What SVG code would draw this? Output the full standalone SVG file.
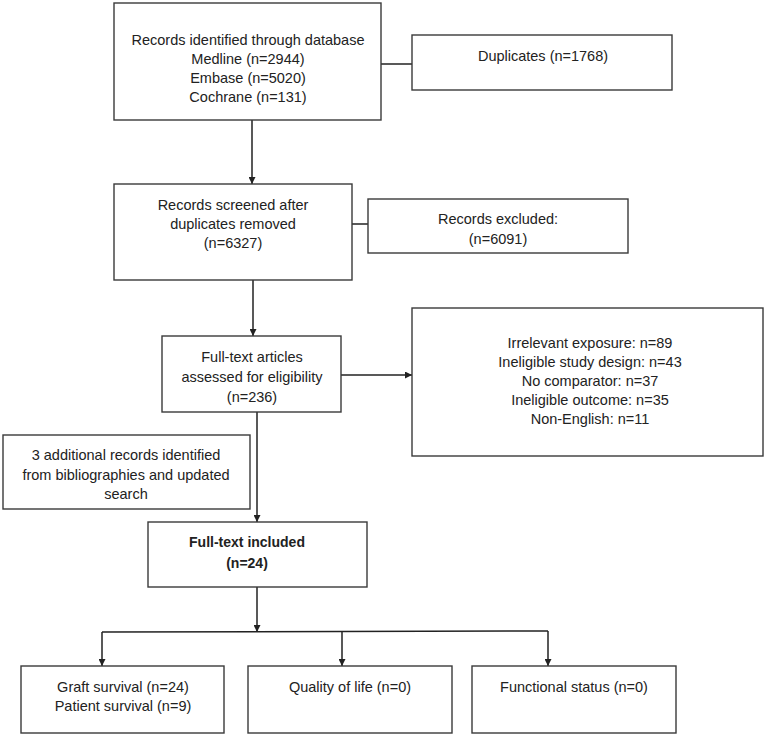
<svg xmlns="http://www.w3.org/2000/svg" width="766" height="736" viewBox="0 0 766 736">
<defs>
<style>
.box{fill:#fff;stroke:#3a3a3a;stroke-width:1.4}
.t{font-family:"Liberation Sans",Arial,sans-serif;font-size:14.5px;fill:#222;text-anchor:middle}
.b{font-weight:bold;font-size:14px}
.c{fill:none;stroke:#222;stroke-width:1.5}
</style>
<marker id="ah" viewBox="0 0 10 10" refX="10" refY="5" markerWidth="7" markerHeight="7" markerUnits="userSpaceOnUse" orient="auto">
<path d="M0,0 L10,5 L0,10 Z" fill="#222"/>
</marker>
</defs>
<rect width="766" height="736" fill="#fff"/>
<g id="connectors">
<line class="c" x1="381" y1="64" x2="412" y2="64"/>
<line class="c" x1="252" y1="120" x2="252" y2="184" marker-end="url(#ah)"/>
<line class="c" x1="352" y1="224" x2="368" y2="224"/>
<line class="c" x1="253" y1="280" x2="253" y2="336" marker-end="url(#ah)"/>
<line class="c" x1="341" y1="375" x2="412" y2="375" marker-end="url(#ah)"/>
<line class="c" x1="257" y1="412" x2="257" y2="522" marker-end="url(#ah)"/>
<line class="c" x1="257" y1="587" x2="257" y2="632" marker-end="url(#ah)"/>
<line class="c" x1="102" y1="632" x2="548" y2="631"/>
<line class="c" x1="102" y1="632" x2="102" y2="666" marker-end="url(#ah)"/>
<line class="c" x1="342" y1="632" x2="342" y2="666" marker-end="url(#ah)"/>
<line class="c" x1="548" y1="631" x2="548" y2="666" marker-end="url(#ah)"/>
</g>
<g id="n1">
<rect class="box" x="114" y="3" width="267" height="117"/>
<text class="t" x="248" y="45">Records identified through database</text>
<text class="t" x="248" y="64">Medline (n=2944)</text>
<text class="t" x="248" y="83">Embase (n=5020)</text>
<text class="t" x="248" y="102">Cochrane (n=131)</text>
</g>
<g id="n2">
<rect class="box" x="412" y="35" width="260" height="55"/>
<text class="t" x="543" y="61">Duplicates (n=1768)</text>
</g>
<g id="n3">
<rect class="box" x="114" y="184" width="238" height="96"/>
<text class="t" x="233" y="210">Records screened after</text>
<text class="t" x="233" y="229">duplicates removed</text>
<text class="t" x="233" y="248">(n=6327)</text>
</g>
<g id="n4">
<rect class="box" x="368" y="199" width="260" height="54"/>
<text class="t" x="498" y="224">Records excluded:</text>
<text class="t" x="498" y="244">(n=6091)</text>
</g>
<g id="n5">
<rect class="box" x="162" y="336" width="179" height="76"/>
<text class="t" x="252" y="362">Full-text articles</text>
<text class="t" x="252" y="382">assessed for eligibility</text>
<text class="t" x="252" y="402">(n=236)</text>
</g>
<g id="n6">
<rect class="box" x="412" y="308" width="351" height="148"/>
<text class="t" x="590" y="348">Irrelevant exposure: n=89</text>
<text class="t" x="590" y="367">Ineligible study design: n=43</text>
<text class="t" x="590" y="386">No comparator: n=37</text>
<text class="t" x="590" y="405">Ineligible outcome: n=35</text>
<text class="t" x="590" y="424">Non-English: n=11</text>
</g>
<g id="n7">
<rect class="box" x="3" y="435" width="247" height="74"/>
<text class="t" x="126" y="460">3 additional records identified</text>
<text class="t" x="126" y="480">from bibliographies and updated</text>
<text class="t" x="126" y="499">search</text>
</g>
<g id="n8">
<rect class="box" x="148" y="522" width="219" height="65"/>
<text class="t b" x="247" y="547">Full-text included</text>
<text class="t b" x="247" y="568">(n=24)</text>
</g>
<g id="n9">
<rect class="box" x="21" y="666" width="203" height="67"/>
<text class="t" x="123" y="692">Graft survival (n=24)</text>
<text class="t" x="123" y="711">Patient survival (n=9)</text>
</g>
<g id="n10">
<rect class="box" x="248" y="666" width="204" height="67"/>
<text class="t" x="350" y="692">Quality of life (n=0)</text>
</g>
<g id="n11">
<rect class="box" x="472" y="666" width="204" height="67"/>
<text class="t" x="574" y="692">Functional status (n=0)</text>
</g>
</svg>
